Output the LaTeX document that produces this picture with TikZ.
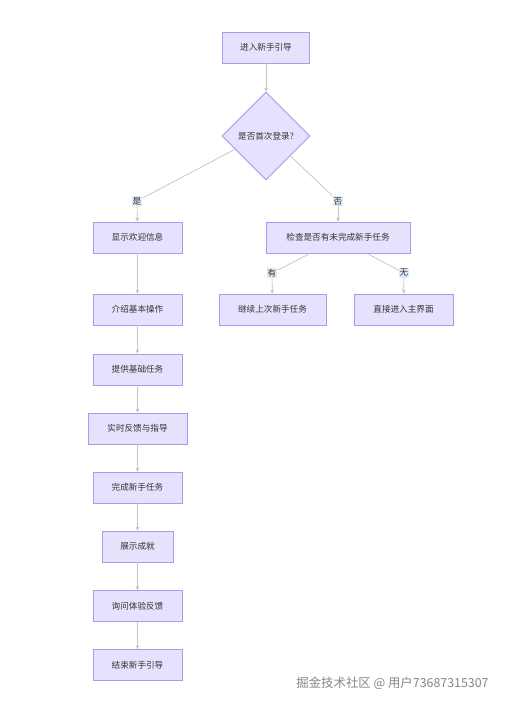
\documentclass[tikz,border=0pt]{standalone}
\usepackage{fontspec}
\setmainfont{Noto Sans CJK SC}
\usetikzlibrary{shapes.geometric,arrows.meta,calc}
\definecolor{boxfill}{HTML}{E6E2FD}
\definecolor{boxdraw}{HTML}{AC98EE}
\definecolor{edgecol}{HTML}{C4C4C4}
\definecolor{labfill}{HTML}{DCEAF8}
\definecolor{txt}{HTML}{333333}
\begin{document}
\begin{tikzpicture}[x=1pt,y=-1pt,
  stepbox/.style={draw=boxdraw,fill=boxfill,line width=0.9pt,minimum height=31pt,inner sep=0pt,text=txt,font=\fontsize{8.6}{10}\selectfont},
  decision/.style={diamond,draw=boxdraw,fill=boxfill,line width=0.9pt,minimum width=88pt,minimum height=88pt,inner sep=0pt,text=txt,font=\fontsize{8.6}{10}\selectfont},
  edgelab/.style={fill=labfill,inner sep=1pt,text=txt,font=\fontsize{8.6}{10}\selectfont},
  conn/.style={draw=edgecol,line width=0.7pt},
  arr/.style={conn,-{Stealth[length=4pt,width=4pt]}}]
\useasboundingbox (0,0) rectangle (508,706);
\fill[white] (0,0) rectangle (508,706);
% nodes
\node[stepbox,minimum width=87pt] (start) at (266,47.5) {进入新手引导};
\node[decision] (d) at (266,136) {是否首次登录?};
\node[stepbox,minimum width=89pt] (welcome) at (137.5,237.5) {显示欢迎信息};
\node[stepbox,minimum width=144pt] (chk) at (338,237.5) {检查是否有未完成新手任务};
\node[stepbox,minimum width=107pt] (cont) at (272.5,309.5) {继续上次新手任务};
\node[stepbox,minimum width=99pt] (main) at (403.5,309.5) {直接进入主界面};
\node[stepbox,minimum width=89pt] (intro) at (137.5,309.5) {介绍基本操作};
\node[stepbox,minimum width=89pt] (task) at (137.5,369.5) {提供基础任务};
\node[stepbox,minimum width=99pt] (fb) at (137.5,428.5) {实时反馈与指导};
\node[stepbox,minimum width=89pt] (done) at (137.5,487.5) {完成新手任务};
\node[stepbox,minimum width=71pt] (ach) at (137.5,546.5) {展示成就};
\node[stepbox,minimum width=89pt] (ask) at (137.5,606) {询问体验反馈};
\node[stepbox,minimum width=89pt] (fin) at (137.5,665) {结束新手引导};
% edge labels
\node[edgelab] (lyes) at (137,201) {是};
\node[edgelab] (lno) at (338,201) {否};
\node[edgelab] (lhas) at (272,273) {有};
\node[edgelab] (lnone) at (404,273) {无};
% anchor points
\coordinate (d1) at ($(d.west)!0.3!(d.south)$);
\coordinate (d2) at ($(d.south)!0.55!(d.east)$);
\coordinate (c1) at ($(chk.south)+(-28,0)$);
\coordinate (c2) at ($(chk.south)+(29,0)$);
% connectors
\draw[arr] (start) -- (d);
\draw[conn] (d1) -- (lyes);
\draw[arr] (lyes) -- (welcome);
\draw[conn] (d2) -- (lno);
\draw[arr] (lno) -- (chk);
\draw[conn] (c1) -- (lhas);
\draw[arr] (lhas) -- (cont);
\draw[conn] (c2) -- (lnone);
\draw[arr] (lnone) -- (main);
\draw[arr] (welcome) -- (intro);
\draw[arr] (intro) -- (task);
\draw[arr] (task) -- (fb);
\draw[arr] (fb) -- (done);
\draw[arr] (done) -- (ach);
\draw[arr] (ach) -- (ask);
\draw[arr] (ask) -- (fin);
% watermark
\node[text=gray!95,font=\fontsize{12.4}{14}\selectfont,inner sep=0pt] (wm) at (392.5,683) {掘金技术社区 @ 用户73687315307};
\end{tikzpicture}
\end{document}
